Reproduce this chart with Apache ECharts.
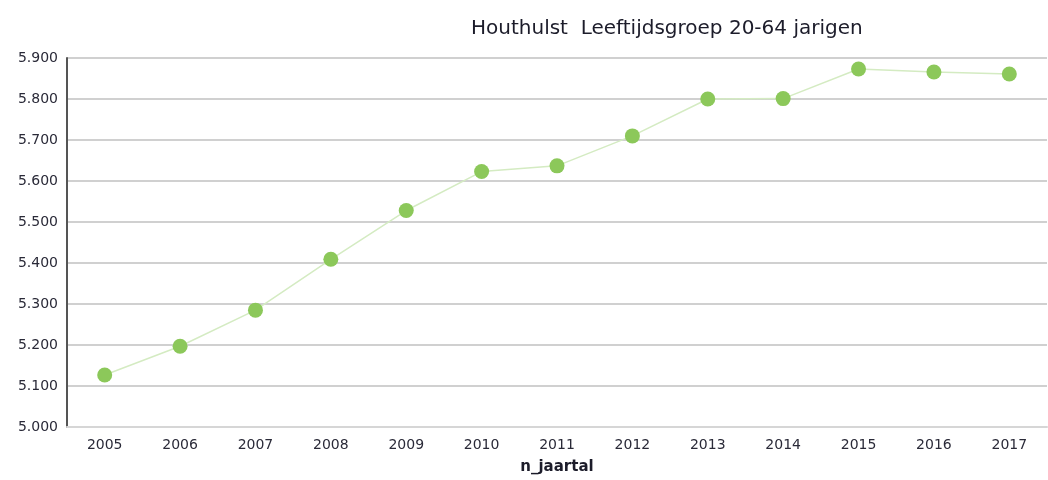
<!DOCTYPE html>
<html>
<head>
<meta charset="utf-8">
<script src="https://cdn.jsdelivr.net/npm/echarts@6/dist/echarts.min.js"></script>
<style>
  html, body { margin: 0; padding: 0; background: #fff; }
  #chart { width: 1048px; height: 480px; }
</style>
</head>
<body>
<div id="chart"></div>
<script>
const years = ['2005', '2006', '2007', '2008', '2009', '2010', '2011', '2012', '2013', '2014', '2015', '2016', '2017']
const inwoners = [5127, 5197, 5285, 5409, 5528, 5623, 5637, 5710, 5800, 5801, 5873, 5866, 5861]
const titleText = 'Houthulst  Leeftijdsgroep 20-64 jarigen'
const xName = 'n_jaartal'

// 5900 -> "5.900"
function fmt(v) {
  const s = String(Math.round(v))
  return s.replace(/\B(?=(\d{3})+(?!\d))/g, '.')
}

const chart = echarts.init(document.getElementById('chart'))
chart.setOption({
  animation: false,
  textStyle: { fontFamily: 'DejaVu Sans' },
  title: {
    text: titleText,
    left: 466,
    top: 14,
    textStyle: { fontSize: 20, fontWeight: 'normal', color: '#1c1c2a' }
  },
  grid: {
    left: 67,
    right: 1,
    top: 58,
    bottom: 52
  },
  xAxis: {
    type: 'category',
    data: years,
    boundaryGap: true,
    name: xName,
    nameLocation: 'middle',
    nameGap: 33,
    nameTextStyle: { fontSize: 15, fontWeight: 'bold', color: '#1c1c2a' },
    axisLine: { lineStyle: { color: '#d6d6d6', width: 2 } },
    axisTick: { show: false },
    axisLabel: { fontSize: 14, color: '#2a2a38', margin: 11 }
  },
  yAxis: {
    type: 'value',
    min: 5000,
    max: 5900,
    interval: 100,
    axisLine: { show: true, lineStyle: { color: '#555', width: 2 } },
    axisTick: { show: false },
    axisLabel: { fontSize: 14, color: '#2a2a38', margin: 9, formatter: fmt },
    splitLine: { lineStyle: { color: '#d0d0d0', width: 2 } }
  },
  series: [{
    type: 'line',
    data: inwoners,
    symbol: 'circle',
    symbolSize: 15,
    itemStyle: { color: '#8cc85a' },
    lineStyle: { color: '#d4ebc2', width: 1.5 }
  }]
})
</script>
</body>
</html>
